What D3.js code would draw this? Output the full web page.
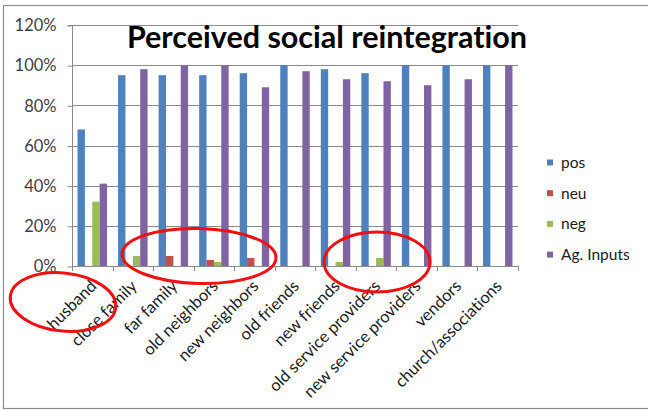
<!DOCTYPE html>
<html><head><meta charset="utf-8">
<script src="https://cdn.jsdelivr.net/npm/d3@7"></script>
<style>body{margin:0;background:#fff}svg{display:block}text{font-variant-ligatures:none}</style>
</head><body>
<svg id="c" width="648" height="410"></svg>
<script>
const categories = ["husband","close family","far family","old neighbors","new neighbors","old friends","new friends","old service providers","new service providers","vendors","church/associations"];
const seriesNames = ["pos","neu","neg","Ag. Inputs"];
const pos = [68,95,95,95,96,100,98,96,100,100,100];
const neu = [0,0,5,3,4,0,0,0,0,0,0];
const neg = [32,5,0,2,0,0,2,4,0,0,0];
const agInputs = [41,98,100,100,89,97,93,92,90,93,100];
const yTicks = [0,20,40,60,80,100,120];
const colors = ["#4F81BD","#C0504D","#9BBB59","#8064A2"];
const title = "Perceived social reintegration";

const svg = d3.select("#c");
const font = "Lato, 'Liberation Sans', Arial, sans-serif";
svg.append("rect").attr("x",3.5).attr("y",5.5).attr("width",650).attr("height",403)
  .attr("fill","#fff").attr("stroke","#8c8c8c").attr("stroke-width",1.2);

const L=72, R=518, T=25, B=266;
const x = d3.scaleBand().domain(categories).range([L,R]).paddingInner(0).paddingOuter(0);
const y = d3.scaleLinear().domain([0,120]).range([B,T]);
const xs = d3.scaleBand().domain(seriesNames).range([0,x.bandwidth()]).paddingInner(0).paddingOuter(0.75);
// gridlines
svg.append("g").selectAll("line").data(yTicks.filter(d=>d>0)).join("line")
  .attr("x1",L).attr("x2",R).attr("y1",d=>Math.round(y(d))+0.5).attr("y2",d=>Math.round(y(d))+0.5)
  .attr("stroke","#8a8a8a").attr("stroke-width",1);
// bars
const data = [pos,neu,neg,agInputs];
data.forEach((arr,si)=>{
  svg.append("g").selectAll("rect").data(arr).join("rect")
    .attr("x",(d,i)=>x(categories[i])+xs(seriesNames[si]))
    .attr("width",xs.bandwidth())
    .attr("y",d=>y(d)).attr("height",d=>B-y(d))
    .attr("fill",colors[si]);
});
// y axis
const ya = d3.axisLeft(y).tickValues(yTicks).tickFormat(d=>d+"%").tickSize(5).tickPadding(11);
const yg = svg.append("g").attr("transform",`translate(${L+0.5},0.5)`).call(ya);
yg.select(".domain").attr("stroke","#8a8a8a").attr("d",`M-5,${T}H0V${B-0.5}`);
yg.selectAll(".tick line").attr("stroke","#8a8a8a");
yg.selectAll("text").attr("font-family",font).attr("font-size",16.5).attr("fill","#404040");
// x axis
const xg = svg.append("g");
xg.append("line").attr("x1",L).attr("x2",R).attr("y1",B+0.5).attr("y2",B+0.5).attr("stroke","#8a8a8a");
const bounds = categories.map(c=>x(c)).concat([R]);
xg.selectAll("line.t").data(bounds).join("line").attr("class","t")
  .attr("x1",d=>Math.round(d)+0.5).attr("x2",d=>Math.round(d)+0.5).attr("y1",B).attr("y2",B+5).attr("stroke","#8a8a8a");
xg.selectAll("text").data(categories).join("text")
  .attr("transform",d=>`translate(${x(d)+x.bandwidth()/2-3},${B+13}) rotate(-45)`)
  .attr("text-anchor","end").attr("dy","0.7em")
  .attr("font-family",font).attr("font-size",16.5).attr("fill","#1a1a1a").text(d=>d);
// title
svg.append("text").attr("x",327).attr("y",48).attr("text-anchor","middle")
  .attr("font-family",font).attr("font-weight","bold").attr("font-size",30.5).attr("fill","#000").text(title);
// legend
const lg = svg.append("g");
seriesNames.forEach((s,i)=>{
  const yy = 162.5 + i*30.7;
  lg.append("rect").attr("x",547).attr("y",yy-3).attr("width",6).attr("height",6).attr("fill",colors[i]);
  lg.append("text").attr("x",561).attr("y",yy).attr("dy","0.35em").attr("font-family",font)
    .attr("font-size",15.5).attr("fill","#1a1a1a").text(s);
});
// red annotation ellipses
const ell = [[63,302,53,29,6],[199,256,77,27.5,1.5],[377,262,53,30,0]];
svg.append("g").selectAll("ellipse").data(ell).join("ellipse")
  .attr("cx",0).attr("cy",0).attr("rx",d=>d[2]).attr("ry",d=>d[3])
  .attr("transform",d=>`translate(${d[0]},${d[1]}) rotate(${d[4]})`)
  .attr("fill","none").attr("stroke","#f01010").attr("stroke-width",3);
</script>
</body></html>
